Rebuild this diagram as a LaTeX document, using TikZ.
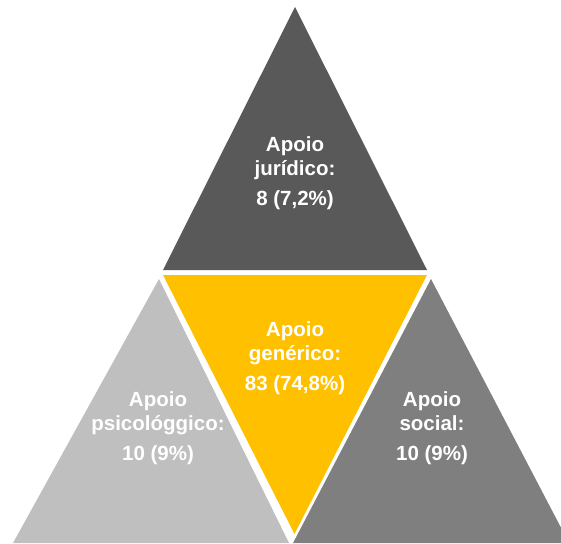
\documentclass[tikz,border=0pt]{standalone}
\usepackage{fontspec}
\setmainfont{Liberation Sans}
\definecolor{topgray}{HTML}{595959}
\definecolor{midyellow}{HTML}{FFC000}
\definecolor{leftgray}{HTML}{BFBFBF}
\definecolor{rightgray}{HTML}{7F7F7F}
\begin{document}
\begin{tikzpicture}[x=1pt,y=-1pt,
  lab/.style={text=white,font=\bfseries\fontsize{20.5}{23.5}\selectfont,align=center,anchor=base,inner sep=0pt}]
\useasboundingbox (0,0) rectangle (561,543);
\fill[topgray] (295,7) -- (163,270) -- (427,270) -- cycle;
\fill[midyellow] (163,275) -- (427,275) -- (294.5,534) -- cycle;
\fill[leftgray] (159,279) -- (13,543) -- (289,543) -- cycle;
\fill[rightgray] (431,279) -- (293,543) -- (569,543) -- cycle;
\node[lab] (top) at (295,205) {Apoio\\jurídico:\\[6.5pt]8 (7,2\%)};
\node[lab] (mid) at (295,390) {Apoio\\genérico:\\[6.5pt]83 (74,8\%)};
\node[lab] (left) at (158,460) {Apoio\\psicológgico:\\[6.5pt]10 (9\%)};
\node[lab] (right) at (432,460) {Apoio\\social:\\[6.5pt]10 (9\%)};
\end{tikzpicture}
\end{document}
